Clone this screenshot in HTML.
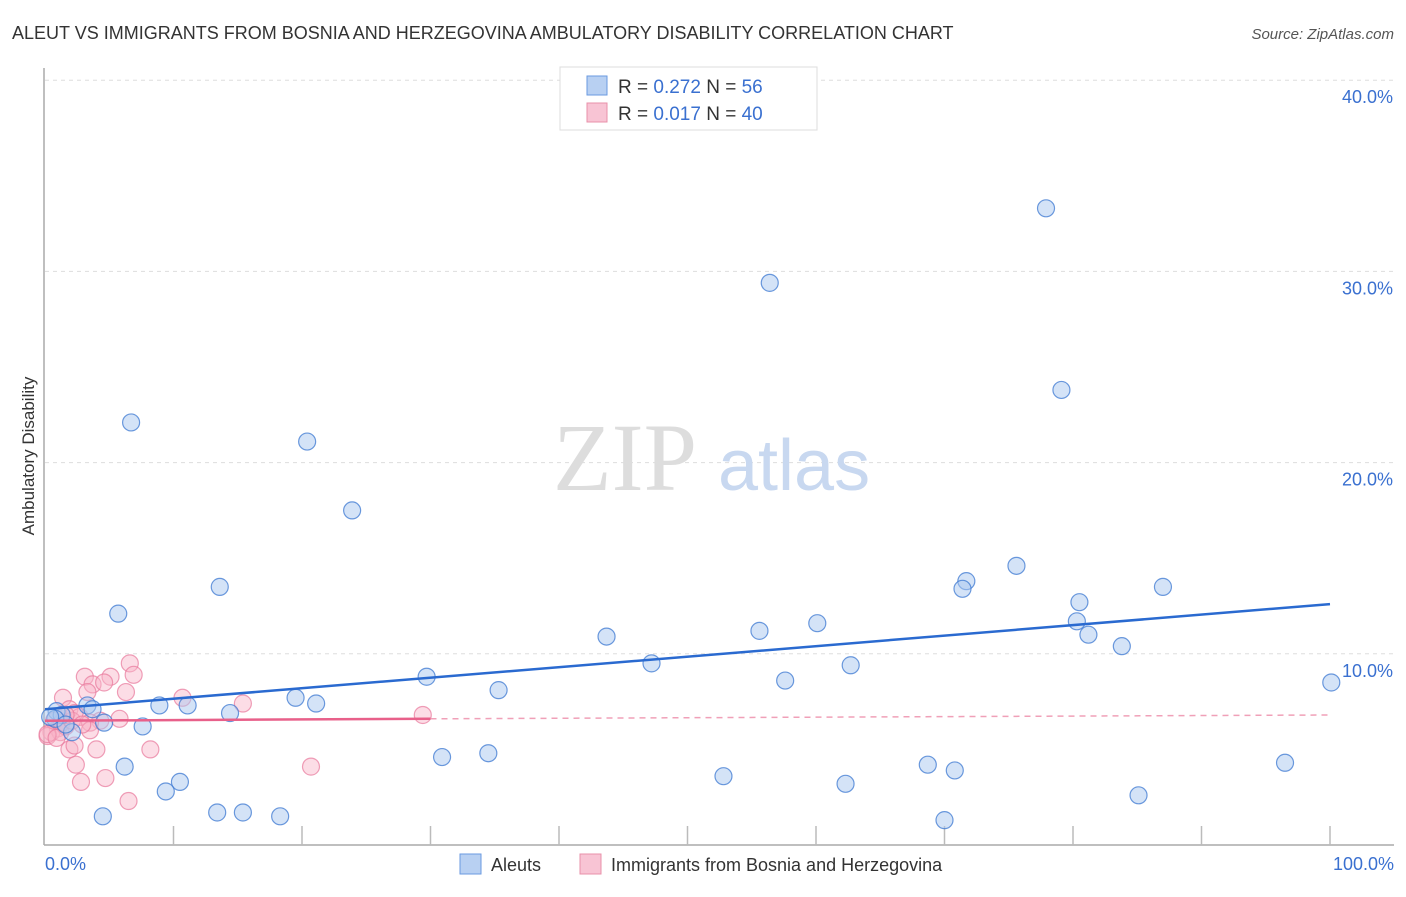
<!DOCTYPE html>
<html><head><meta charset="utf-8"><style>
body{margin:0;background:#fff;font-family:"Liberation Sans",sans-serif;}
</style></head><body>
<svg width="1406" height="892" viewBox="0 0 1406 892" style="font-family:'Liberation Sans',sans-serif">
<text x="12" y="39" font-size="18" fill="#333">ALEUT VS IMMIGRANTS FROM BOSNIA AND HERZEGOVINA AMBULATORY DISABILITY CORRELATION CHART</text>
<text x="1394" y="39" font-size="15" fill="#555" font-style="italic" text-anchor="end">Source: ZipAtlas.com</text>
<g id="grid"></g>
<g><text x="553" y="490" font-size="96" font-family="Liberation Serif" fill="#ddd">ZIP</text><text x="718" y="490" font-size="72" fill="#c8d8f0">atlas</text></g>
<line x1="44" y1="68" x2="44" y2="845" stroke="#aaa" stroke-width="1.5"/>
<line x1="44" y1="845" x2="1394" y2="845" stroke="#aaa" stroke-width="1.5"/>
<g id="ticks"></g>
<text transform="translate(34,456) rotate(-90)" font-size="17" fill="#333" text-anchor="middle">Ambulatory Disability</text>
<text x="45" y="870" font-size="18" fill="#3a70d0">0.0%</text>
<text x="1394" y="870" font-size="18" fill="#3a70d0" text-anchor="end">100.0%</text>
<g id="pts"></g>
<g id="lines"></g>
<g>
<rect x="560" y="67" width="257" height="63" fill="#fff" stroke="#ddd"/>
<rect x="587" y="76" width="20" height="19" fill="#b8d0f2" stroke="#6a9ae0"/>
<rect x="587" y="103" width="20" height="19" fill="#f8c4d4" stroke="#e890aa"/>
<text x="618" y="93" font-size="19" fill="#333">R = <tspan fill="#3a70d0">0.272</tspan>   N = <tspan fill="#3a70d0"> 56</tspan></text>
<text x="618" y="120" font-size="19" fill="#333">R = <tspan fill="#3a70d0">0.017</tspan>   N = <tspan fill="#3a70d0">40</tspan></text>
</g>
<g>
<rect x="460" y="854" width="21" height="20" fill="#b8d0f2" stroke="#6a9ae0"/>
<text x="491" y="871" font-size="18" fill="#333">Aleuts</text>
<rect x="580" y="854" width="21" height="20" fill="#f8c4d4" stroke="#e890aa"/>
<text x="611" y="871" font-size="18" fill="#333">Immigrants from Bosnia and Herzegovina</text>
</g>
</svg>
<script>
const yTicks=[10,20,30,40];
const xTicks=[10,20,30,40,50,60,70,80,90,100];
const blueX=[6.7,20.4,23.9,13.6,5.7,56.4,77.9,79.1,75.6,71.7,71.4,87.0,80.5,80.3,81.2,83.8,43.7,55.6,60.1,47.2,62.7,57.6,29.7,35.3,100.1,19.5,21.1,8.9,11.1,14.4,7.6,4.6,3.3,3.7,0.9,1.3,2.1,6.2,10.5,9.4,30.9,34.5,52.8,68.7,70.8,62.3,96.5,85.1,4.5,13.4,15.4,18.3,70.0,0.8,1.6,0.4];
const blueY=[22.1,21.1,17.5,13.5,12.1,29.4,33.3,23.8,14.6,13.8,13.4,13.5,12.7,11.7,11.0,10.4,10.9,11.2,11.6,9.5,9.4,8.6,8.8,8.1,8.5,7.7,7.4,7.3,7.3,6.9,6.2,6.4,7.3,7.1,7.0,6.8,5.9,4.1,3.3,2.8,4.6,4.8,3.6,4.2,3.9,3.2,4.3,2.6,1.5,1.7,1.7,1.5,1.3,6.6,6.3,6.7];
const pinkX=[3.1,5.1,6.6,6.9,1.4,3.7,4.6,3.3,6.3,10.7,15.4,1.9,2.7,4.3,5.8,3.5,1.0,0.5,1.2,4.0,1.9,2.3,2.4,4.7,2.8,6.5,8.2,20.7,29.4,0.2,0.7,1.3,1.6,2.1,2.3,0.2,0.9,3.5,1.6,2.9];
const pinkY=[8.8,8.8,9.5,8.9,7.7,8.4,8.5,8.0,8.0,7.7,7.4,7.1,6.7,6.5,6.6,6.4,6.1,5.9,5.9,5.0,5.0,5.2,4.2,3.5,3.3,2.3,5.0,4.1,6.8,5.7,6.5,6.4,6.2,6.5,6.9,5.8,5.6,6.0,6.8,6.3];
const blueTrend=[3.5,12.6]; // y at x=0 and x=100
const pinkTrend=[6.5,6.6,6.8]; // y at 0, 30, 100
const X=v=>45+v*12.85, Y=v=>845-v*19.12;
const NS='http://www.w3.org/2000/svg';
function mk(t,a,p){const e=document.createElementNS(NS,t);for(const k in a)e.setAttribute(k,a[k]);p.appendChild(e);return e;}
const grid=document.getElementById('grid'),ticks=document.getElementById('ticks'),pts=document.getElementById('pts'),lines=document.getElementById('lines');
yTicks.forEach(v=>{
 const l=mk('line',{x1:45,x2:1394,y1:Y(v),y2:Y(v),stroke:'#ddd','stroke-dasharray':'4,4'},grid);
 
 
 const t=mk('text',{x:1393,y:Y(v)+23,'font-size':18,fill:'#3a70d0','text-anchor':'end'},ticks);
 t.textContent=v.toFixed(1)+'%';
 
 
});
xTicks.forEach(v=>{
 const l=mk('line',{x1:X(v),x2:X(v),y1:826,y2:845,stroke:'#bbb','stroke-width':1.5},ticks);
 
 
});
pinkX.forEach((x,i)=>{
 const c=mk('circle',{cx:X(x),cy:Y(pinkY[i]),r:8.5,fill:'rgba(248,180,200,0.45)',stroke:'rgba(232,120,155,0.7)','stroke-width':1.2},pts);
 
 
});
blueX.forEach((x,i)=>{
 const c=mk('circle',{cx:X(x),cy:Y(blueY[i]),r:8.5,fill:'rgba(170,200,240,0.5)',stroke:'rgba(60,120,210,0.75)','stroke-width':1.2},pts);
 
 
});
let l1=mk('line',{x1:X(0),y1:Y(blueTrend[0]*0+7.1),x2:X(100),y2:Y(blueTrend[1]),stroke:'#2a6ad0','stroke-width':2.5},lines);
l1.setAttribute('y1',Y(blueTrend[0]+ (7.1-blueTrend[0])));


let l2=mk('line',{x1:X(0),y1:Y(pinkTrend[0]),x2:X(30),y2:Y(pinkTrend[1]),stroke:'#e8608a','stroke-width':2.5},lines);


let l3=mk('line',{x1:X(30),y1:Y(pinkTrend[1]),x2:X(100),y2:Y(pinkTrend[2]),stroke:'#f0a0b8','stroke-width':1.5,'stroke-dasharray':'6,5'},lines);


</script>
</body></html>
